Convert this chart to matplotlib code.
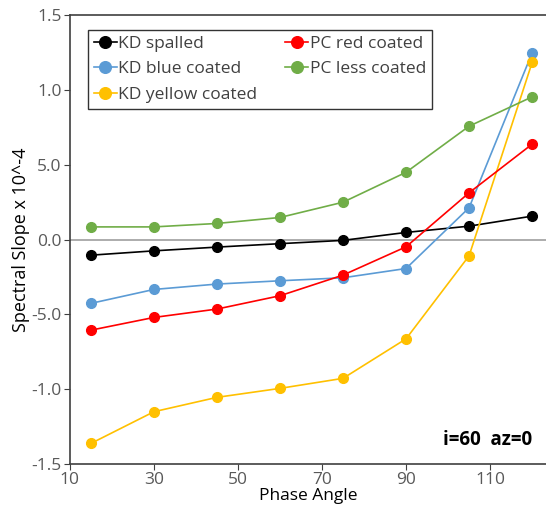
import matplotlib.pyplot as plt

# --- data ---
phase = [15, 30, 45, 60, 75, 90, 105, 120]
kd_spalled = [-0.104, -0.075, -0.050, -0.027, -0.005, 0.048, 0.090, 0.157]
kd_blue = [-0.426, -0.333, -0.297, -0.275, -0.255, -0.193, 0.213, 1.248]
kd_yellow = [-1.362, -1.150, -1.054, -0.994, -0.927, -0.663, -0.108, 1.184]
pc_red = [-0.605, -0.520, -0.464, -0.375, -0.237, -0.048, 0.313, 0.638]
pc_less = [0.085, 0.085, 0.108, 0.148, 0.250, 0.450, 0.758, 0.954]

yticks = [1.5, 1.0, 0.5, 0.0, -0.5, -1.0, -1.5]
ytick_labels = ['1.5', '1.0', '5.0', '0.0', '-5.0', '-1.0', '-1.5']
xticks = [10, 30, 50, 70, 90, 110]

plt.rcParams['font.family'] = ['Open Sans', 'DejaVu Sans']

fig = plt.figure(figsize=(5.46, 5.05), dpi=100)
ax = fig.add_axes([0.128, 0.081, 0.872, 0.889])

ax.axhline(0, color='#a6a6a6', lw=1.3, zorder=1)

kw = dict(marker='o', markersize=7, lw=1.2, zorder=3)
ax.plot(phase, kd_spalled, color='black', label='KD spalled', **kw)
ax.plot(phase, kd_blue, color='#5b9bd5', label='KD blue coated', **kw)
ax.plot(phase, kd_yellow, color='#ffc000', label='KD yellow coated', **kw)
ax.plot(phase, pc_red, color='#ff0000', label='PC red coated', **kw)
ax.plot(phase, pc_less, color='#70ad47', label='PC less coated', **kw)

ax.set_xlim(10, 123.3)
ax.set_ylim(-1.5, 1.5)
ax.set_xticks(xticks)
ax.set_yticks(yticks)
ax.set_yticklabels(ytick_labels)
ax.tick_params(labelsize=12.5, colors='#595959', length=4, pad=2)
ax.tick_params(axis='both', color='#404040')

for s in ['left', 'bottom', 'top']:
    ax.spines[s].set_color('#404040')
    ax.spines[s].set_linewidth(1.2)
ax.spines['right'].set_visible(False)

ax.set_xlabel('Phase Angle', fontsize=12.5, labelpad=0)
ax.set_ylabel('Spectral Slope x 10^-4', fontsize=13, labelpad=1)

leg = ax.legend(loc='upper left', bbox_to_anchor=(0.038, 0.968), ncol=2,
                fontsize=12.5, frameon=True, fancybox=False, edgecolor='black',
                handlelength=1.3, handletextpad=0.1, columnspacing=1.6,
                labelspacing=0.55, borderpad=0.35, borderaxespad=0,
                markerscale=1.2)
leg.get_frame().set_linewidth(1.0)
for t in leg.get_texts():
    t.set_color('#404040')

ax.text(0.97, 0.053, 'i=60  az=0', transform=ax.transAxes, ha='right',
        va='center', fontsize=13.5, fontweight='bold')

fig.savefig('out.png', dpi=100)
